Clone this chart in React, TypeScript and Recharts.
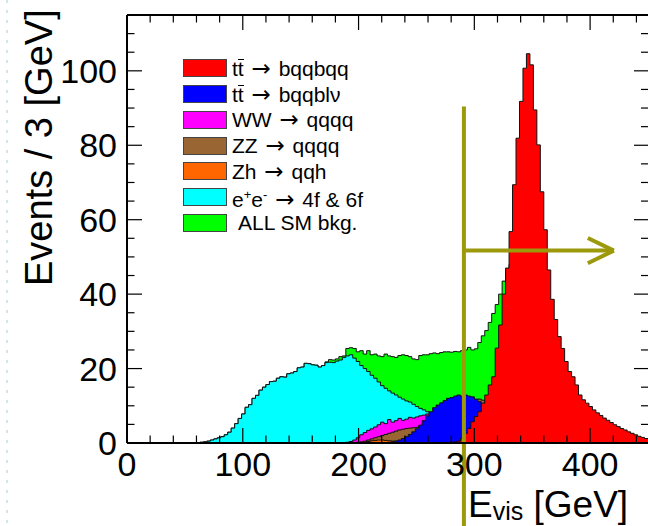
import React from "react";
import { ComposedChart, Area, XAxis, YAxis, ReferenceLine } from "recharts";

// Visible energy, events per 3 GeV bin. Each series lists its bin contents
// starting at the lower edge given in its *Start constant.
const BIN = 3;
const E_MAX = 450;
const Y_MAX = 115;

const xMajorTicks = [0, 100, 200, 300, 400];
const xMinorTicks = [20, 40, 60, 80, 120, 140, 160, 180, 220, 240, 260, 280, 320, 340, 360, 380, 420, 440];
const yMajorTicks = [0, 20, 40, 60, 80, 100];
const yMinorTicks = [5, 10, 15, 25, 30, 35, 45, 50, 55, 65, 70, 75, 85, 90, 95, 105, 110];

// ALL SM bkg.
const allBkgStart = 60;
const allBkg = [
  0.1, 0.2, 0.3, 0.5, 0.8, 1.1, 1.4, 1.7, 2.2, 2.9, 4.0, 5.2, 6.6, 7.8, 9.6, 10.3, 12.0, 12.8, 14.2, 15.0,
  15.7, 16.5, 16.6, 17.4, 17.8, 17.7, 18.6, 18.8, 19.2, 20.2, 20.4, 21.4, 21.3, 21.0, 20.9, 20.4, 20.8,
  21.8, 22.4, 22.3, 22.6, 23.2, 23.4, 25.4, 25.6, 25.4, 24.5, 24.8, 23.9, 24.8, 23.7, 23.9, 23.4, 23.2,
  23.9, 23.4, 23.2, 23.0, 23.5, 23.7, 23.5, 23.2, 22.6, 22.4, 23.5, 23.7, 23.7, 24.0, 24.2, 24.0, 24.3,
  24.5, 24.5, 24.4, 24.6, 24.5, 24.8, 25.0, 25.7, 25.0, 25.3, 27.0, 28.8, 30.2, 32.4, 34.8, 37.2, 40.0,
  43.5, 46.0, 48.0, 48.0, 46.0, 42.0, 38.0, 34.0, 30.0, 26.0, 22.0, 18.0, 15.0, 12.0, 10.0, 8.0, 6.6,
  5.5, 4.6, 3.9, 3.3, 2.8, 2.4, 2.1, 1.8, 1.6, 1.4, 1.3, 1.2, 1.1, 1.0, 0.9, 0.8, 0.8, 0.7, 0.7, 0.6,
  0.6, 0.5, 0.5, 0.5, 0.4,
];

// e+e- -> 4f & 6f
const fourSixFStart = 60;
const fourSixF = [
  0.1, 0.2, 0.3, 0.5, 0.8, 1.1, 1.4, 1.7, 2.2, 2.9, 4.0, 5.2, 6.6, 7.8, 9.6, 10.3, 12.0, 12.8, 14.2, 15.0,
  15.7, 16.5, 16.6, 17.4, 17.8, 17.7, 18.6, 18.8, 19.2, 20.2, 20.4, 21.4, 21.3, 21.0, 20.9, 20.4, 20.8,
  21.6, 21.7, 21.6, 22.0, 22.3, 23.0, 23.4, 23.7, 22.8, 21.9, 20.8, 20.0, 19.2, 18.2, 17.4, 16.4, 15.4,
  14.7, 14.0, 13.4, 12.9, 12.3, 11.8, 11.3, 11.0, 10.4, 9.8, 9.3, 8.9, 8.4, 7.8, 7.0, 6.3, 5.6, 4.9,
  4.3, 3.7, 3.2, 2.7, 2.3, 1.9, 1.6, 1.3, 1.1, 0.9, 0.7, 0.6, 0.5, 0.4, 0.3, 0.3, 0.2, 0.2, 0.2, 0.1, 0.1,
];

// WW -> qqqq
const wwStart = 189;
const ww = [
  0.2, 0.4, 0.8, 1.4, 2.2, 2.8, 3.4, 3.8, 4.3, 4.9, 5.6, 5.2, 6.3, 5.6, 6.0, 6.6, 6.1, 6.4, 6.9, 6.7,
  7.0, 7.3, 7.5, 7.8, 7.4, 7.0, 6.5, 6.0, 5.4, 4.8, 4.1, 3.5, 2.9, 2.3, 1.8, 1.3, 0.9, 0.6, 0.4, 0.2,
];

// ZZ -> qqqq
const zzStart = 198;
const zz = [
  0.2, 0.3, 0.5, 0.8, 1.1, 1.4, 1.7, 2.0, 2.3, 2.6, 2.9, 3.2, 3.5, 3.7, 3.9, 4.0, 4.1, 4.2, 4.4, 4.7,
  5.1, 5.6, 6.2, 6.8, 7.4, 8.0, 8.6, 9.1, 9.6, 10.1, 10.5, 10.8, 11.1, 11.4, 11.6, 11.8, 11.5, 10.4,
  8.8, 7.2, 5.8, 4.6, 3.6, 2.8, 2.1, 1.6, 1.2, 0.9, 0.7, 0.5, 0.4, 0.3, 0.2, 0.1,
];

// Zh -> qqh
const zhStart = 201;
const zh = [
  0.1, 0.2, 0.4, 0.6, 0.7, 0.8, 0.8, 0.7, 0.6, 0.5, 0.5, 0.5, 0.5, 0.5, 0.5, 0.4, 0.4, 0.4, 0.3, 0.3,
  0.3, 0.2, 0.2, 0.2, 0.1,
];

// tt -> bqqblv
const ttSemiStart = 222;
const ttSemi = [
  0.1, 0.2, 0.3, 0.5, 0.8, 1.2, 1.7, 2.3, 3.0, 3.8, 4.8, 6.0, 7.3, 8.4, 9.5, 10.2, 10.8, 11.4, 12.0,
  12.2, 12.6, 12.9, 12.6, 12.9, 12.6, 12.4, 11.8, 11.1, 9.8, 8.0, 6.2, 4.8, 3.7, 2.9, 2.3, 1.8, 1.4,
  1.1, 0.9, 0.7, 0.6, 0.5, 0.4, 0.3, 0.3, 0.2, 0.2, 0.1,
];

// tt -> bqqbqq
const ttHadStart = 276;
const ttHad = [
  0.1, 0.2, 0.3, 0.5, 1.2, 2.6, 3.9, 5.7, 7.1, 8.4, 10.7, 12.9, 15.6, 17.8, 25.5, 31.7, 40.0, 47.0,
  56.8, 69.4, 81.9, 91.8, 100.7, 104.6, 101.6, 89.5, 80.1, 67.5, 57.3, 46.5, 38.6, 33.2, 28.6, 25.4,
  21.9, 19.2, 17.8, 15.6, 12.9, 11.6, 10.7, 9.8, 8.9, 8.1, 7.4, 6.7, 6.1, 5.5, 4.9, 4.4, 3.9, 3.5,
  3.0, 2.6, 2.2, 1.8, 1.5, 1.2,
];

// selection cut and its arrow
const cutE = 291;
const cutTop = 90.4;
const cutBottom = -23;
const arrowLevel = 51.7;
const arrowTipE = 420.5;
const arrowWingE = 398;
const arrowWingHalf = 3.4;

const FONT = '"Liberation Sans", Arial, Helvetica, sans-serif';
const CUT_COLOR = "#9c9a0c";

function binValue(start: number, vals: number[], e: number) {
  const i = Math.round((e - start) / BIN);
  return i >= 0 && i < vals.length ? vals[i] : 0;
}

const rows: any[] = [];
for (let e = 0; e <= E_MAX; e += BIN) {
  // the closing edge at E_MAX repeats the last bin so the steps end on the frame
  const lo = e === E_MAX ? E_MAX - BIN : e;
  rows.push({
    e,
    allBkg: binValue(allBkgStart, allBkg, lo),
    fourSixF: binValue(fourSixFStart, fourSixF, lo),
    ww: binValue(wwStart, ww, lo),
    zz: binValue(zzStart, zz, lo),
    zh: binValue(zhStart, zh, lo),
    ttSemi: binValue(ttSemiStart, ttSemi, lo),
    ttHad: binValue(ttHadStart, ttHad, lo),
  });
}

const xTicks = [...xMajorTicks, ...xMinorTicks].sort((a, b) => a - b);
const yTicks = [...yMajorTicks, ...yMinorTicks].sort((a, b) => a - b);

// drawn back to front
const histos = [
  { key: "allBkg", color: "#00ff00" },
  { key: "fourSixF", color: "#00ffff" },
  { key: "ww", color: "#ff00ff" },
  { key: "zz", color: "#996633" },
  { key: "zh", color: "#ff6600" },
  { key: "ttSemi", color: "#0000ff" },
  { key: "ttHad", color: "#ff0000" },
];

const TBar = () => (
  <span style={{ position: "relative", display: "inline-block" }}>
    t
    <span style={{ position: "absolute", left: 0, right: 0, top: 2, borderTop: "1.5px solid #000" }} />
  </span>
);

const Arrow = () => (
  <span style={{ fontFamily: '"DejaVu Sans", sans-serif', fontSize: 23, margin: "0 2px" }}>→</span>
);

const sup = { fontSize: 13, verticalAlign: "8px" } as const;

const legendRows = [
  { color: "#ff0000", label: <>t<TBar /> <Arrow /> bqqbqq</> },
  { color: "#0000ff", label: <>t<TBar /> <Arrow /> bqqblν</> },
  { color: "#ff00ff", label: <>WW <Arrow /> qqqq</> },
  { color: "#996633", label: <>ZZ <Arrow /> qqqq</> },
  { color: "#ff6600", label: <>Zh <Arrow /> qqh</> },
  { color: "#00ffff", label: <>e<span style={sup}>+</span>e<span style={sup}>-</span> <Arrow /> 4f &amp; 6f</> },
  { color: "#00ff00", label: <span style={{ marginLeft: 6 }}>ALL SM bkg.</span> },
];

const TICK = { stroke: "#000", strokeWidth: 1.2 };
const AXIS_LINE = { stroke: "#000", strokeWidth: 2 };

// ticks point into the frame, ROOT style
const BottomTick = (p: any) => {
  const major = xMajorTicks.includes(p.payload.value);
  return (
    <g>
      <line x1={p.x} x2={p.x} y1={p.y} y2={p.y - (major ? 15 : 7.5)} {...TICK} />
      {major && (
        <text x={p.x} y={p.y + 33} textAnchor="middle" fontSize={34} fontFamily={FONT} fill="#000">
          {p.payload.value}
        </text>
      )}
    </g>
  );
};

const TopTick = (p: any) => {
  const major = xMajorTicks.includes(p.payload.value);
  return <line x1={p.x} x2={p.x} y1={p.y} y2={p.y + (major ? 15 : 7.5)} {...TICK} />;
};

const LeftTick = (p: any) => {
  const major = yMajorTicks.includes(p.payload.value);
  return (
    <g>
      <line x1={p.x} x2={p.x + (major ? 15 : 7.5)} y1={p.y} y2={p.y} {...TICK} />
      {major && (
        <text x={p.x - 10} y={p.y + 12} textAnchor="end" fontSize={34} fontFamily={FONT} fill="#000">
          {p.payload.value}
        </text>
      )}
    </g>
  );
};

const RightTick = (p: any) => {
  const major = yMajorTicks.includes(p.payload.value);
  return <line x1={p.x - (major ? 14 : 7)} x2={p.x} y1={p.y} y2={p.y} {...TICK} />;
};

export default function App() {
  return (
    <div
      style={{
        position: "absolute",
        left: 0,
        top: 0,
        width: 648,
        height: 526,
        overflow: "hidden",
        background: "#fff",
        fontFamily: FONT,
      }}
    >
      <ComposedChart width={648} height={526} data={rows} margin={{ top: 14, right: -1, bottom: 82, left: 126 }}>
        <XAxis xAxisId="b" dataKey="e" type="number" domain={[0, E_MAX]} allowDataOverflow ticks={xTicks}
          interval={0} height={1} tickSize={0} tickMargin={0} tickLine={false} axisLine={AXIS_LINE}
          tick={<BottomTick />} />
        <XAxis xAxisId="t" orientation="top" dataKey="e" type="number" domain={[0, E_MAX]} allowDataOverflow
          ticks={xTicks} interval={0} height={1} tickSize={0} tickMargin={0} tickLine={false}
          axisLine={AXIS_LINE} tick={<TopTick />} />
        <YAxis yAxisId="l" type="number" domain={[0, Y_MAX]} allowDataOverflow ticks={yTicks} interval={0}
          width={1} tickSize={0} tickMargin={0} tickLine={false} axisLine={AXIS_LINE} tick={<LeftTick />} />
        <YAxis yAxisId="r" orientation="right" type="number" domain={[0, Y_MAX]} allowDataOverflow
          ticks={yTicks} interval={0} width={1} tickSize={0} tickMargin={0} tickLine={false}
          axisLine={false} tick={<RightTick />} />

        {histos.map((h) => (
          <Area
            key={h.key}
            xAxisId="b"
            yAxisId="l"
            type="stepAfter"
            dataKey={h.key}
            fill={h.color}
            fillOpacity={1}
            stroke="#111"
            strokeWidth={1}
            dot={false}
            activeDot={false}
            isAnimationActive={false}
          />
        ))}

        <ReferenceLine xAxisId="b" yAxisId="l" ifOverflow="visible" stroke={CUT_COLOR} strokeWidth={4}
          segment={[{ x: cutE, y: cutTop }, { x: cutE, y: cutBottom }]} />
        <ReferenceLine xAxisId="b" yAxisId="l" ifOverflow="visible" stroke={CUT_COLOR} strokeWidth={4}
          segment={[{ x: cutE, y: arrowLevel }, { x: arrowTipE, y: arrowLevel }]} />
        <ReferenceLine xAxisId="b" yAxisId="l" ifOverflow="visible" stroke={CUT_COLOR} strokeWidth={4}
          segment={[{ x: arrowWingE, y: arrowLevel + arrowWingHalf }, { x: arrowTipE, y: arrowLevel }]} />
        <ReferenceLine xAxisId="b" yAxisId="l" ifOverflow="visible" stroke={CUT_COLOR} strokeWidth={4}
          segment={[{ x: arrowWingE, y: arrowLevel - arrowWingHalf }, { x: arrowTipE, y: arrowLevel }]} />
      </ComposedChart>

      <svg width={648} height={526} style={{ position: "absolute", left: 0, top: 0, pointerEvents: "none" }}>
        <line x1={7} x2={7} y1={0} y2={526} stroke="#d4e4ec" strokeWidth={2} strokeDasharray="3 7" />
        <text transform="translate(52,286) rotate(-90)" fontSize={38} fontFamily={FONT} fill="#000">
          Events / 3 [GeV]
        </text>
        <text x={468} y={517} fontSize={37} fontFamily={FONT} fill="#000">
          E<tspan fontSize={25} dy={3}>vis</tspan>
          <tspan dy={-3}> [GeV]</tspan>
        </text>
      </svg>

      <div style={{ position: "absolute", left: 183, top: 55.4 }}>
        {legendRows.map((r, i) => (
          <div key={i} style={{ display: "flex", alignItems: "center", height: 25.8 }}>
            <span
              style={{
                width: 44,
                height: 18,
                background: r.color,
                border: "1px solid #444",
                boxSizing: "border-box",
                flex: "none",
              }}
            />
            <span style={{ marginLeft: 5, fontSize: 21, lineHeight: "24px", whiteSpace: "nowrap", color: "#000" }}>
              {r.label}
            </span>
          </div>
        ))}
      </div>
    </div>
  );
}
